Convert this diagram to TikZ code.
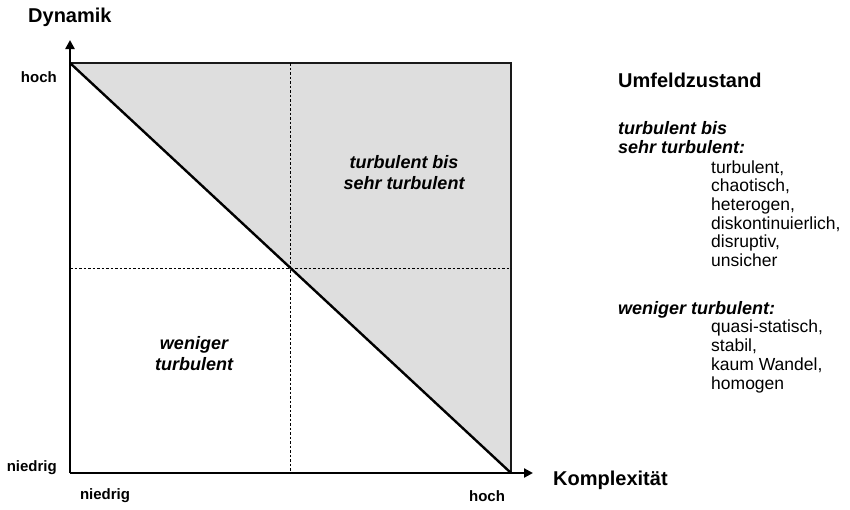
\documentclass[tikz,border=0pt]{standalone}
\usepackage{fontspec}
\setmainfont{Liberation Sans}
\usetikzlibrary{arrows.meta}
\begin{document}
\begin{tikzpicture}[x=1pt,y=-1pt,
  axisline/.style={line width=2.6pt,-{Triangle[length=9pt,width=9pt]}},
  frameline/.style={line width=1.2pt,draw=black!90},
  diagline/.style={line width=2.4pt},
  gridline/.style={line width=0.7pt,dash pattern=on 2.5pt off 2pt},
  axislabel/.style={font=\fontsize{20}{23}\selectfont\bfseries,inner sep=0pt},
  ticklabel/.style={font=\fontsize{15}{17}\selectfont\bfseries,inner sep=0pt},
  regionlabel/.style={font=\fontsize{18}{21}\selectfont\bfseries\itshape,inner sep=0pt,align=center},
  legendhead/.style={font=\fontsize{18}{19}\selectfont\bfseries\itshape,inner sep=0pt,anchor=base west,align=left},
  legenditem/.style={font=\fontsize{17.5}{18.7}\selectfont,inner sep=0pt,anchor=base west,align=left}]
\useasboundingbox (0,0) rectangle (850,509);

% corners of the field
\coordinate (O)  at (70,473);
\coordinate (TL) at (70,63);
\coordinate (TR) at (511,63);
\coordinate (BR) at (511,473);
\coordinate (MT) at (290,63);
\coordinate (MB) at (290,473);
\coordinate (ML) at (70,268);
\coordinate (MR) at (511,268);
\coordinate (YT) at (70,40);
\coordinate (XR) at (533,473);

% turbulent half
\fill[black!13] (TL) -- (TR) -- (BR) -- cycle;
\draw[frameline] (TL) -- (TR) -- (BR);

% quadrant guides
\draw[gridline] (MT) -- (MB);
\draw[gridline] (ML) -- (MR);

% boundary diagonal
\draw[diagline] (TL) -- (BR);

% axes
\draw[axisline] (O) -- (YT);
\draw[axisline] (O) -- (XR);

% axis titles and ticks
\node[axislabel,anchor=west] (dyn) at (28,17) {Dynamik};
\node[axislabel,anchor=west] (kom) at (553,480) {Komplexität};
\node[ticklabel,anchor=east] (yhi) at (57,77) {hoch};
\node[ticklabel,anchor=east] (ylo) at (57,468) {niedrig};
\node[ticklabel] (xlo) at (105,496) {niedrig};
\node[ticklabel] (xhi) at (487,496) {hoch};

% region labels
\node[regionlabel] (rhi) at (404,173) {turbulent bis\\sehr turbulent};
\node[regionlabel] (rlo) at (194,354) {weniger\\turbulent};

% legend
\node[axislabel,anchor=base west] (leg) at (618,87) {Umfeldzustand};
\node[legendhead] (lh1) at (618,153) {turbulent bis\\sehr turbulent:};
\node[legenditem] (li1) at (711,266.5) {turbulent,\\chaotisch,\\heterogen,\\diskontinuierlich,\\disruptiv,\\unsicher};
\node[legendhead] (lh2) at (618,314) {weniger turbulent:};
\node[legenditem] (li2) at (711,389) {quasi-statisch,\\stabil,\\kaum Wandel,\\homogen};
\end{tikzpicture}
\end{document}
